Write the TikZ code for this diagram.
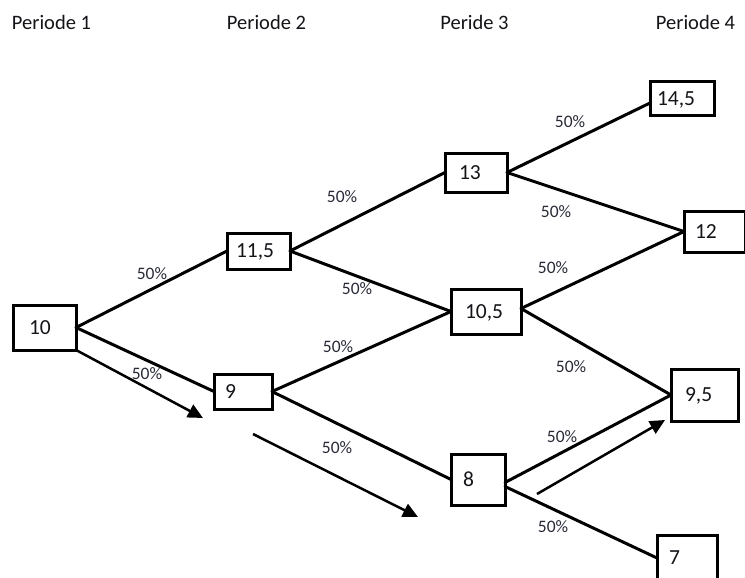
\documentclass[tikz,border=0pt]{standalone}
\usepackage{fontspec}
\setmainfont{Carlito}
\usetikzlibrary{arrows.meta}
\definecolor{lbl}{RGB}{40,42,55}
\definecolor{txt}{RGB}{20,20,25}
\begin{document}
\begin{tikzpicture}[x=1pt,y=-1pt,
  bx/.style={draw=black, line width=3pt, outer sep=0pt, inner ysep=0pt, align=left,
    text height=13pt, text depth=0pt, text=txt, font=\fontsize{21.5pt}{25pt}\selectfont},
  ln/.style={line width=3pt, line cap=round},
  arr/.style={line width=2.5pt, -{Triangle[length=15pt,width=14pt]}},
  pct/.style={text=lbl, inner sep=0pt, font=\fontsize{17.5pt}{20pt}\selectfont},
  hdr/.style={text=txt, inner sep=0pt, font=\fontsize{20.5pt}{24pt}\selectfont}]
\useasboundingbox (0,0) rectangle (745,578);
\fill[white] (0,0) rectangle (745,578);

% headers
\node[hdr] (h1) at (51.5,22) {Periode 1};
\node[hdr] (h2) at (266.5,22) {Periode 2};
\node[hdr] (h3) at (474.5,22) {Peride 3};
\node[hdr] (h4) at (695.5,22) {Periode 4};

% boxes
\node[bx, minimum width=63, minimum height=45, inner xsep=16, text width=31] (n10) at (44.5,327.5) {10};
\node[bx, minimum width=63, minimum height=36, inner xsep=9, text width=45] (n115) at (258.5,251) {11,5};
\node[bx, minimum width=58, minimum height=35, inner xsep=11, text width=36] (n9) at (243,391.5) {9};
\node[bx, minimum width=62, minimum height=39, inner xsep=14, text width=34] (n13) at (476,172.5) {13};
\node[bx, minimum width=70, minimum height=45, inner xsep=14, text width=42] (n105) at (486,311.5) {10,5};
\node[bx, minimum width=54, minimum height=51, inner xsep=12, text width=30] (n8) at (478,479.5) {8};
\node[bx, minimum width=64, minimum height=34, inner xsep=7, text width=50] (n145) at (682,99) {14,5};
\node[bx, minimum width=61, minimum height=41, inner xsep=11, text width=39] (n12) at (714.5,231.5) {12};
\node[bx, minimum width=67, minimum height=52, inner xsep=14, text width=39] (n95) at (704.5,395) {9,5};
\node[bx, minimum width=60, minimum height=45, inner xsep=12, text width=36] (n7) at (687,558) {7};

% connectors
\draw[ln] (n10.east) -- (n115.west);
\draw[ln] (n10.east) -- (n9.west);
\draw[ln] (n115.east) -- (n13.west);
\draw[ln] (n115.east) -- (n105.west);
\draw[ln] (n9.east) -- (n105.west);
\draw[ln] (n9.east) -- (n8.west);
\draw[ln] (n13.east) -- ([yshift=-4pt]n145.west);
\draw[ln] (n13.east) -- (n12.west);
\draw[ln] ([yshift=3pt]n105.east) -- (n12.west);
\draw[ln] ([yshift=3pt]n105.east) -- (n95.west);
\draw[ln] ([yshift=-3pt]n8.east) -- (n95.west);
\draw[ln] ([yshift=-7pt]n8.east) -- (n7.west);

% free arrows
\coordinate (a1s) at (n10.south east);
\coordinate (a1e) at (203,418);
\coordinate (a2s) at (253,434);
\coordinate (a2e) at (418,517);
\coordinate (a3s) at (537,494);
\coordinate (a3e) at (665,420);
\draw[arr] (a1s) -- (a1e);
\draw[arr] (a2s) -- (a2e);
\draw[arr] (a3s) -- (a3e);

% probability labels
\node[pct] (p1) at (152,274) {50\%};
\node[pct] (p2) at (147,374) {50\%};
\node[pct] (p3) at (342,197) {50\%};
\node[pct] (p4) at (357,289) {50\%};
\node[pct] (p5) at (338,347) {50\%};
\node[pct] (p6) at (337,448) {50\%};
\node[pct] (p7) at (570,122) {50\%};
\node[pct] (p8) at (556,211.5) {50\%};
\node[pct] (p9) at (553,268) {50\%};
\node[pct] (p10) at (571,367) {50\%};
\node[pct] (p11) at (562,437) {50\%};
\node[pct] (p12) at (553,527) {50\%};
\end{tikzpicture}
\end{document}
